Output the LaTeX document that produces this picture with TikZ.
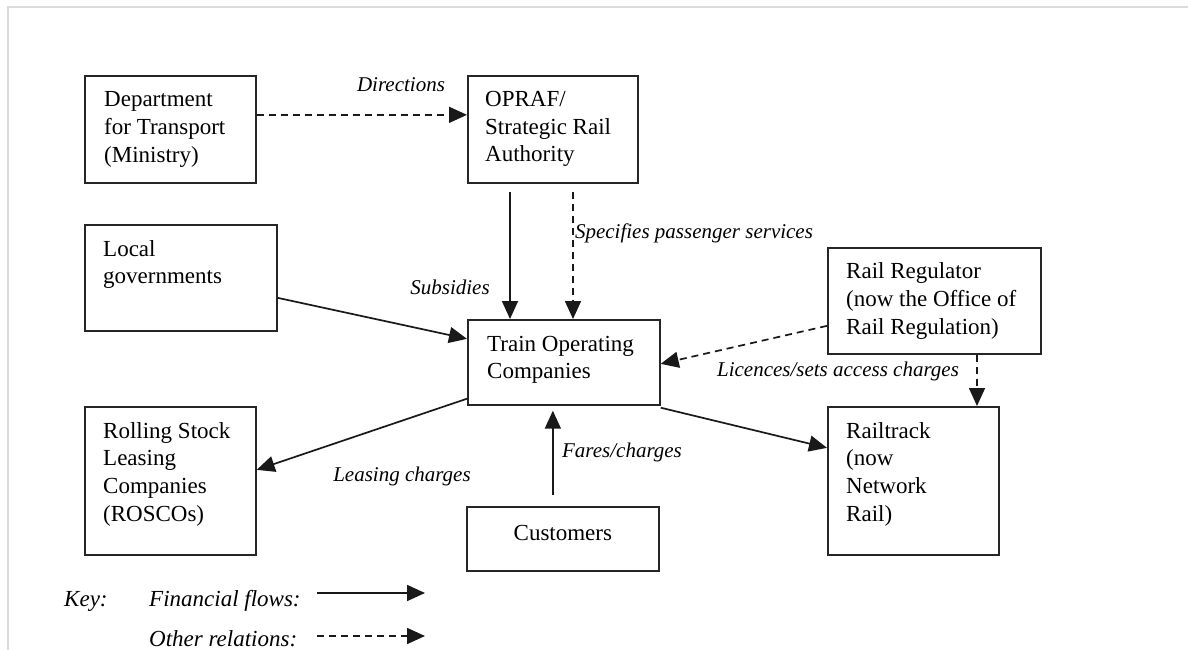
\documentclass[tikz,border=0pt]{standalone}
\usepackage{fontspec}
\setmainfont{Liberation Serif}
\usetikzlibrary{arrows.meta}
\begin{document}
\begin{tikzpicture}[x=1pt,y=-1pt,
  box/.style={draw=black!85, line width=1.7pt, rectangle, inner sep=0pt, anchor=north west},
  boxtext/.style={anchor=north west, align=left, inner sep=0pt,
    font=\fontsize{23}{27.6}\selectfont, execute at begin node=\strut},
  lbl/.style={anchor=base, inner sep=0pt, font=\fontsize{21}{25}\selectfont\itshape},
  keytext/.style={anchor=base west, inner sep=0pt, font=\fontsize{23}{27.6}\selectfont\itshape},
  flow/.style={line width=1.7pt, black!90, -{Triangle[length=18pt,width=16pt]}},
  rel/.style={flow, dash pattern=on 7pt off 5pt},
]
\useasboundingbox (0,0) rectangle (1188,650);
% page edge
\draw[line width=1.5pt, black!14] (8,650) -- (8,7) -- (1188,7);

% boxes
\node[box, minimum width=171pt, minimum height=107pt] (dft)   at (84,75)   {};
\node[box, minimum width=170pt, minimum height=107pt] (opraf) at (467,75)  {};
\node[box, minimum width=192pt, minimum height=106pt] (lg)    at (84,224)  {};
\node[box, minimum width=192pt, minimum height=85pt]  (toc)   at (467,319) {};
\node[box, minimum width=213pt, minimum height=106pt] (rr)    at (827,247) {};
\node[box, minimum width=171pt, minimum height=148pt] (rosco) at (84,406)  {};
\node[box, minimum width=192pt, minimum height=64pt]  (cust)  at (466,506) {};
\node[box, minimum width=171pt, minimum height=148pt] (rt)    at (827,406) {};

% box texts, set from the top left corner of each box
\node[boxtext] (dftT)   at ([xshift=20pt,yshift=-16.7pt]dft.north west)   {Department\\for Transport\\(Ministry)};
\node[boxtext] (oprafT) at ([xshift=18pt,yshift=-16.2pt]opraf.north west) {OPRAF/\\Strategic Rail\\Authority};
\node[boxtext] (lgT)    at ([xshift=19pt,yshift=-16.2pt]lg.north west)    {Local\\governments};
\node[boxtext] (tocT)   at ([xshift=20pt,yshift=-16.7pt]toc.north west)   {Train Operating\\Companies};
\node[boxtext] (rrT)    at ([xshift=19pt,yshift=-15.7pt]rr.north west)    {Rail Regulator\\(now the Office of\\Rail Regulation)};
\node[boxtext] (roscoT) at ([xshift=19pt,yshift=-16.2pt]rosco.north west) {Rolling Stock\\Leasing\\Companies\\(ROSCOs)};
\node[boxtext] (rtT)    at ([xshift=19pt,yshift=-16.2pt]rt.north west)    {Railtrack\\(now\\Network\\Rail)};
\node[anchor=base, inner sep=0pt, font=\fontsize{23}{27.6}\selectfont] (custT) at ([yshift=-1.5pt]cust.center) {Customers};

% connectors
\coordinate (dirS) at ([yshift=14.5pt]dft.east);
\draw[rel] (dirS) -- (dirS -| opraf.west);
\coordinate (subS) at ([xshift=43pt,yshift=-8pt]opraf.south west);
\draw[flow] (subS) -- (subS |- toc.north);
\coordinate (speS) at ([xshift=106pt,yshift=-8pt]opraf.south west);
\draw[rel] (speS) -- (speS |- toc.north);
\draw[flow] ([yshift=-20pt]lg.east) -- ([yshift=23.5pt]toc.west);
\draw[flow] ([yshift=7pt]toc.south west) -- ([yshift=11pt]rosco.east);
\coordinate (farS) at ([xshift=-10pt,yshift=11pt]cust.north);
\draw[flow, shorten >=5pt] (farS) -- (farS |- toc.south);
\draw[flow] ([yshift=-2pt]toc.south east) -- ([yshift=33pt]rt.west);
\draw[rel] ([yshift=-25pt]rr.west) -- ([yshift=-1.5pt]toc.east);
\coordinate (licS) at ([xshift=150pt]rr.south west);
\draw[rel] (licS) -- (licS |- rt.north);

% connector labels
\node[lbl] (dirL) at (401,92)  {Directions};
\node[lbl] (subL) at (450,294) {Subsidies};
\node[lbl] (speL) at (694,238) {Specifies passenger services};
\node[lbl] (licL) at (838,376) {Licences/sets access charges};
\node[lbl] (leaL) at (402,481) {Leasing charges};
\node[lbl] (farL) at (622,457) {Fares/charges};

% key
\node[keytext] (keyT) at (64,606)  {Key:};
\node[keytext] (kffT) at (149,606) {Financial flows:};
\node[keytext] (korT) at (149,646) {Other relations:};
\coordinate (kfS) at (317,593);
\coordinate (kfE) at (425,593);
\draw[flow] (kfS) -- (kfE);
\coordinate (koS) at (317,636);
\coordinate (koE) at (425,636);
\draw[rel] (koS) -- (koE);
\end{tikzpicture}
\end{document}
